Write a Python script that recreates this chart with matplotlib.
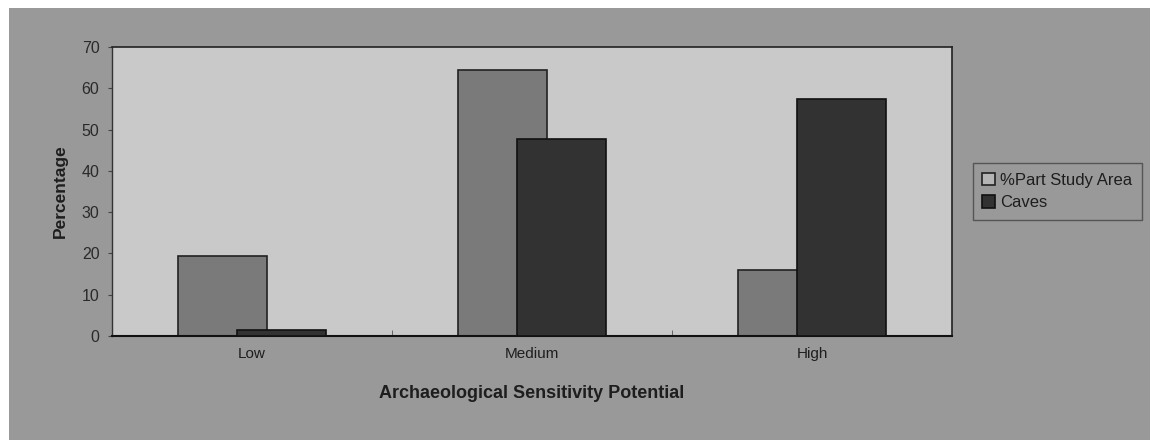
import matplotlib
matplotlib.use("Agg")
import matplotlib.pyplot as plt
from matplotlib.patches import Rectangle
import numpy as np

plt.rcParams["font.family"] = ["Liberation Sans", "DejaVu Sans"]

categories = ["Low", "Medium", "High"]
study_area = [19.4, 64.4, 16.1]
caves = [1.5, 47.7, 57.5]
series_names = ["%Part Study Area", "Caves"]
yticks = [0, 10, 20, 30, 40, 50, 60, 70]

W, H = 1150, 440
fig = plt.figure(figsize=(W / 100, H / 100), dpi=100, facecolor="white")
# gray chart background (white strip at top and left)
fig.patches.append(Rectangle((9 / W, 0), 1 - 9 / W, 1 - 8 / H, transform=fig.transFigure,
                             facecolor="#999999", edgecolor="none", zorder=-10))

ax = fig.add_axes([112 / W, (H - 336) / H, (952 - 112) / W, (336 - 47) / H])
ax.set_facecolor("#c9c9c9")

x = np.arange(len(categories))
bw = 0.318
off = 0.107
ax.bar(x - off, study_area, bw, color="#7a7a7a", edgecolor="#222222", linewidth=1.2,
       label=series_names[0], zorder=2)
ax.bar(x + off, caves, bw, color="#323232", edgecolor="#111111", linewidth=1.2,
       label=series_names[1], zorder=3)

ax.set_xlim(-0.5, 2.5)
ax.set_ylim(0, 70)
ax.set_yticks(yticks)
ax.set_yticklabels([str(v) for v in yticks], fontsize=11.5, color="#2a2a2a")
ax.set_xticks(x)
ax.set_xticklabels(categories, fontsize=11, color="#1e1e1e")
ax.tick_params(axis="x", length=0, pad=8)
ax.set_xticks([0.5, 1.5], minor=True)
ax.tick_params(axis="x", which="minor", direction="in", length=4, color="#555555")
ax.tick_params(axis="y", length=3, direction="out", color="#444444", pad=6)

for s in ["top", "right"]:
    ax.spines[s].set_color("#222222")
    ax.spines[s].set_linewidth(1.2)
ax.spines["bottom"].set_color("#111111")
ax.spines["bottom"].set_linewidth(1.5)
ax.spines["left"].set_color("#333333")
ax.spines["left"].set_linewidth(1.0)

ax.set_ylabel("Percentage", fontsize=12.5, fontweight="bold", color="#1e1e1e", labelpad=10)
ax.set_xlabel("Archaeological Sensitivity Potential", fontsize=13, fontweight="bold",
              color="#1e1e1e", labelpad=17)

leg = ax.legend(loc="center left", bbox_to_anchor=(1.015, 0.5), frameon=True, fontsize=12,
                handlelength=0.8, handleheight=0.8, handletextpad=0.3, borderpad=0.55,
                labelspacing=0.45, fancybox=False)
leg.get_frame().set_facecolor("#999999")
leg.get_frame().set_edgecolor("#444444")
leg.get_frame().set_linewidth(1.0)
leg.legend_handles[0].set_facecolor("#b5b5b5")
for t in leg.get_texts():
    t.set_color("#1e1e1e")

fig.savefig("out.png", dpi=100, facecolor=fig.get_facecolor())
